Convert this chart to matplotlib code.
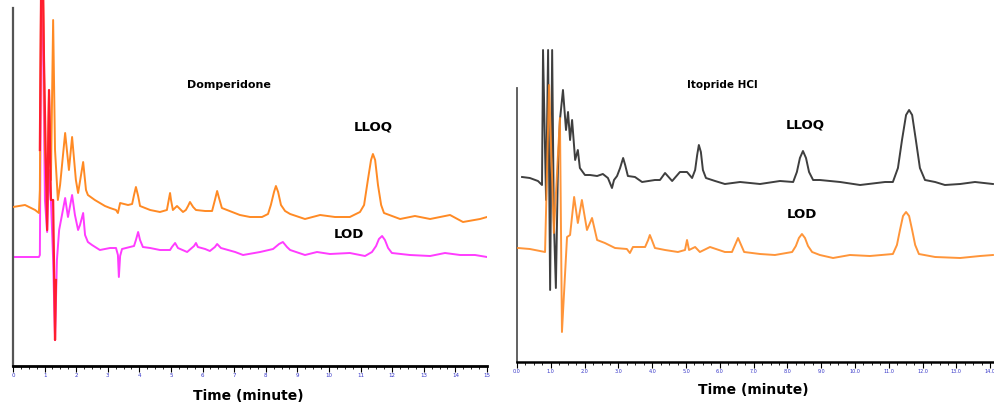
import matplotlib
matplotlib.use("Agg")
import matplotlib.pyplot as plt
from matplotlib.ticker import MultipleLocator, FixedLocator

# ---------------- data ----------------
# Left panel: Domperidone, time in minutes, detector response (arbitrary units)
dom_lloq_t = [0.00, 0.38, 0.70, 0.82, 0.85, 0.89, 0.95, 1.01, 1.08, 1.14, 1.20, 1.27, 1.33, 1.42,
              1.49, 1.65, 1.77, 1.87, 1.99, 2.06, 2.22, 2.31, 2.37, 2.59, 2.91, 3.07, 3.26, 3.32,
              3.39, 3.64, 3.77, 3.83, 3.89, 3.96, 4.02, 4.34, 4.65, 4.87, 4.94, 4.97, 5.00, 5.06,
              5.19, 5.38, 5.47, 5.54, 5.60, 5.70, 5.79, 6.08, 6.30, 6.39, 6.46, 6.52, 6.61, 7.18,
              7.50, 7.88, 8.07, 8.16, 8.26, 8.32, 8.39, 8.48, 8.61, 8.77, 9.24, 9.72, 10.19, 10.66,
              10.98, 11.11, 11.23, 11.33, 11.39, 11.46, 11.55, 11.65, 11.74, 12.25, 12.72, 13.20,
              13.83, 14.24, 14.78, 15.00]
dom_lloq_y = [159, 161, 156, 153, 176, 380, 380, 216, 176, 273, 186, 346, 216, 166,
              181, 233, 196, 229, 186, 173, 204, 176, 171, 166, 160, 158, 156, 153,
              163, 161, 162, 171, 179, 170, 160, 156, 154, 156, 168, 173, 166, 156,
              160, 154, 156, 160, 164, 159, 156, 155, 155, 166, 175, 168, 158, 151,
              149, 149, 152, 161, 174, 180, 174, 161, 155, 152, 147, 151, 149, 149,
              154, 161, 186, 206, 212, 206, 181, 161, 153, 147, 150, 147,
              151, 144, 147, 149]

dom_lod_t = [0.00, 0.82, 0.85, 0.89, 0.92, 0.95, 1.01, 1.08, 1.14, 1.20, 1.27, 1.33, 1.39, 1.46,
             1.55, 1.65, 1.74, 1.87, 1.96, 2.06, 2.12, 2.22, 2.28, 2.37, 2.50, 2.75, 3.07, 3.26,
             3.32, 3.35, 3.39, 3.45, 3.70, 3.83, 3.89, 3.96, 4.02, 4.11, 4.34, 4.65, 4.97, 5.03,
             5.13, 5.22, 5.51, 5.73, 5.79, 5.85, 6.08, 6.23, 6.39, 6.46, 6.58, 7.03, 7.28, 7.82,
             8.23, 8.42, 8.54, 8.67, 8.77, 9.24, 9.62, 10.03, 10.66, 11.14, 11.36, 11.49, 11.58,
             11.68, 11.77, 11.87, 11.99, 12.56, 13.20, 13.67, 14.15, 14.62, 15.00]
dom_lod_y = [109, 109, 111, 326, 380, 326, 166, 134, 196, 166, 106, 26, 106, 136,
             151, 168, 149, 171, 151, 136, 141, 153, 131, 124, 121, 116, 118, 118,
             111, 89, 110, 117, 119, 120, 126, 134, 126, 119, 118, 116, 116, 119,
             123, 118, 114, 120, 123, 119, 117, 115, 119, 122, 118, 114, 111, 114,
             117, 122, 124, 119, 116, 111, 114, 112, 113, 110, 114, 120, 127,
             130, 126, 118, 113, 111, 110, 113, 111, 111, 109]

dom_blank_t = [0.85, 0.89, 0.95, 0.98, 1.08, 1.14, 1.20, 1.27, 1.33, 1.36]
dom_blank_y = [216, 380, 380, 306, 136, 276, 166, 166, 26, 86]

# Right panel: Itopride HCl
ito_lloq_t = [0.15, 0.38, 0.62, 0.74, 0.77, 0.86, 0.92, 0.98, 1.04, 1.09, 1.15, 1.21, 1.27, 1.36,
              1.45, 1.51, 1.57, 1.63, 1.72, 1.80, 1.86, 2.01, 2.16, 2.37, 2.54, 2.69, 2.81, 2.87,
              2.96, 3.05, 3.14, 3.20, 3.28, 3.49, 3.70, 4.08, 4.23, 4.38, 4.59, 4.82, 5.03, 5.18,
              5.27, 5.33, 5.38, 5.44, 5.50, 5.59, 5.86, 6.15, 6.60, 7.19, 7.78, 8.17, 8.28, 8.37,
              8.46, 8.55, 8.64, 8.76, 8.96, 9.56, 10.15, 10.89, 11.12, 11.27, 11.39, 11.51, 11.60,
              11.69, 11.80, 11.92, 12.07, 12.37, 12.66, 13.11, 13.55, 14.08]
ito_lloq_y = [185, 184, 181, 177, 312, 162, 312, 72, 312, 142, 74, 192, 242, 272,
              232, 250, 222, 242, 202, 212, 194, 187, 187, 186, 188, 184, 174, 182,
              186, 194, 204, 197, 186, 185, 180, 182, 182, 189, 181, 190, 190, 184,
              192, 207, 217, 210, 192, 184, 181, 178, 180, 178, 181, 180, 190, 204,
              211, 204, 190, 182, 182, 180, 177, 180, 180, 194, 222, 247, 252,
              247, 222, 194, 182, 180, 177, 178, 180, 178]

ito_lod_t = [0.03, 0.38, 0.68, 0.83, 0.95, 1.09, 1.27, 1.33, 1.48, 1.57, 1.69, 1.80, 1.92, 2.07,
             2.22, 2.37, 2.60, 2.90, 3.25, 3.34, 3.43, 3.79, 3.88, 3.93, 3.99, 4.08, 4.38, 4.76,
             4.97, 5.03, 5.09, 5.27, 5.41, 5.71, 6.15, 6.36, 6.45, 6.54, 6.63, 6.72, 7.19, 7.63,
             8.14, 8.25, 8.34, 8.43, 8.52, 8.61, 8.73, 8.96, 9.35, 9.85, 10.44, 11.12, 11.24,
             11.33, 11.42, 11.51, 11.60, 11.69, 11.78, 11.89, 12.37, 13.11, 13.70, 14.08]
ito_lod_y = [114, 113, 111, 110, 277, 129, 244, 30, 125, 127, 165, 139, 162, 132,
             144, 122, 119, 114, 113, 109, 115, 115, 122, 127, 122, 114, 112, 110,
             112, 122, 112, 115, 110, 115, 110, 110, 117, 124, 117, 110, 108, 107,
             110, 116, 124, 128, 124, 116, 110, 107, 104, 107, 106, 108, 117,
             132, 146, 150, 146, 132, 117, 108, 105, 104, 106, 107]

left_ticks = list(range(0, 16))
left_ticklabels = [str(v) for v in left_ticks]
right_ticks = list(range(0, 15))
right_ticklabels = [f"{v:.1f}" for v in right_ticks]

# ---------------- figure ----------------
W, H = 995, 412
fig = plt.figure(figsize=(W / 100, H / 100), dpi=100)

def px_axes(x0, y_top, x1, y_bot):
    return fig.add_axes([x0 / W, 1 - y_bot / H, (x1 - x0) / W, (y_bot - y_top) / H])

ORANGE = "#FF8A24"
MAGENTA = "#FF3CFF"
RED = "#FF1E2E"
BLACK = "#2E2E2E"
TICKBLUE = "#3535C8"

# Left panel
axL = px_axes(13, 0, 487, 366)
axL.plot(dom_lloq_t, dom_lloq_y, color=ORANGE, lw=1.4, zorder=3)
axL.plot(dom_lod_t, dom_lod_y, color=MAGENTA, lw=1.4, zorder=2)
axL.plot(dom_blank_t, dom_blank_y, color=RED, lw=1.6, zorder=4)
axL.set_xlim(0, 15)
axL.set_ylim(0, 366)
axL.spines["top"].set_visible(False)
axL.spines["right"].set_visible(False)
axL.spines["left"].set_bounds(0, 358)
axL.spines["left"].set_color("#555555")
axL.spines["left"].set_linewidth(1.6)
axL.spines["bottom"].set_linewidth(2.0)
axL.yaxis.set_visible(False)
axL.xaxis.set_major_locator(FixedLocator(left_ticks))
axL.set_xticklabels(left_ticklabels)
axL.xaxis.set_minor_locator(MultipleLocator(0.25))
axL.tick_params(axis="x", which="major", length=4, width=0.8, labelsize=4,
                labelcolor=TICKBLUE, pad=1)
axL.tick_params(axis="x", which="minor", length=2, width=0.6)
axL.patch.set_alpha(0)

# Right panel
axR = px_axes(517, 45, 993.6, 362)
axR.plot(ito_lloq_t, ito_lloq_y, color=BLACK, lw=1.4, zorder=2, alpha=0.92)
axR.plot(ito_lod_t, ito_lod_y, color=ORANGE, lw=1.4, zorder=3, alpha=0.9)
axR.set_xlim(0, 14.1)
axR.set_ylim(0, 317)
axR.spines["top"].set_visible(False)
axR.spines["right"].set_visible(False)
axR.spines["left"].set_bounds(0, 274)
axR.spines["left"].set_color("#555555")
axR.spines["left"].set_linewidth(1.3)
axR.spines["bottom"].set_linewidth(1.8)
axR.yaxis.set_visible(False)
axR.xaxis.set_major_locator(FixedLocator(right_ticks))
axR.set_xticklabels(right_ticklabels)
axR.xaxis.set_minor_locator(MultipleLocator(0.25))
axR.tick_params(axis="x", which="major", length=4, width=0.8, labelsize=3.5,
                labelcolor=TICKBLUE, pad=1)
axR.tick_params(axis="x", which="minor", length=2, width=0.6)
axR.patch.set_alpha(0)

def ftext(x, y, s, size, **kw):
    fig.text(x / W, 1 - y / H, s, fontsize=size, fontweight="bold",
             ha="center", va="center", **kw)

ftext(229, 85, "Domperidone", 8)
ftext(373, 127, "LLOQ", 9.5)
ftext(349, 235, "LOD", 9.5)
ftext(248, 396, "Time (minute)", 10)

ftext(722, 85, "Itopride HCl", 7.5)
ftext(805, 125, "LLOQ", 9.5)
ftext(802, 215, "LOD", 9.5)
ftext(753, 390, "Time (minute)", 10)

fig.savefig("out.png", dpi=100)
